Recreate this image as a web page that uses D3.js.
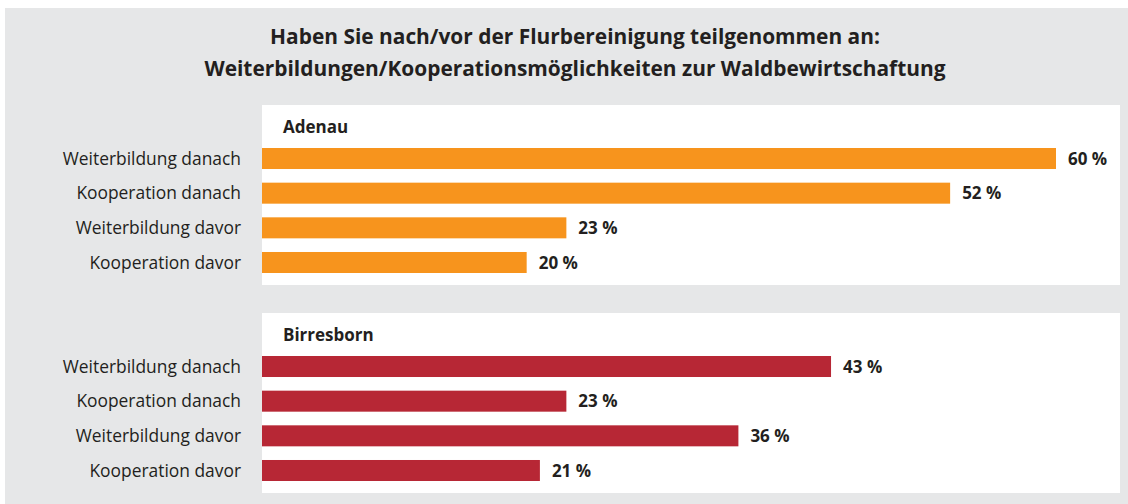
<!DOCTYPE html>
<html><head><meta charset="utf-8">
<script src="https://cdn.jsdelivr.net/npm/d3@7"></script>
<style>html,body{margin:0;padding:0;background:#fff;}svg{display:block;font-family:"Open Sans",sans-serif;}</style>
</head><body>
<svg id="c" width="1128" height="504"></svg>
<script>
const titleLines = ["Haben Sie nach/vor der Flurbereinigung teilgenommen an:", "Weiterbildungen/Kooperationsmöglichkeiten zur Waldbewirtschaftung"];
const categories = ["Weiterbildung danach", "Kooperation danach", "Weiterbildung davor", "Kooperation davor"];
const regions = ["Adenau", "Birresborn"];
const adenauValues = [60, 52, 23, 20];
const birresbornValues = [43, 23, 36, 21];
const regionColors = ["#F7941D", "#B72735"];

const svg = d3.select("#c");
const textColor = "#231F20";

svg.append("rect").attr("x", 5).attr("y", 8).attr("width", 1123).attr("height", 496).attr("fill", "#E6E7E8");

svg.selectAll("text.title").data(titleLines).join("text")
  .attr("class", "title")
  .attr("x", 575).attr("y", (d, i) => 44 + i * 32)
  .attr("text-anchor", "middle")
  .attr("font-size", 20.9).attr("font-weight", 700).attr("fill", textColor)
  .text(d => d);

const x = d3.scaleLinear().domain([0, 60]).range([262, 1056]);

const panels = [
  { name: regions[0], values: adenauValues, color: regionColors[0], top: 105, bottom: 285, barTop: 148, barBottom: 273 },
  { name: regions[1], values: birresbornValues, color: regionColors[1], top: 313, bottom: 493, barTop: 356, barBottom: 481 }
];

panels.forEach(p => {
  const g = svg.append("g");
  g.append("rect").attr("x", 262).attr("y", p.top).attr("width", 858).attr("height", p.bottom - p.top).attr("fill", "#fff");
  g.append("text").attr("x", 283).attr("y", p.top + 28)
    .attr("font-size", 17).attr("font-weight", 700).attr("fill", textColor).text(p.name);
  const y = d3.scaleBand().domain(categories).range([p.barTop, p.barBottom]).paddingInner(0.394).paddingOuter(0);
  const rows = categories.map((c, i) => ({ c, v: p.values[i] }));
  g.selectAll("rect.bar").data(rows).join("rect").attr("class", "bar")
    .attr("x", x(0)).attr("y", d => y(d.c)).attr("width", d => x(d.v) - x(0)).attr("height", y.bandwidth())
    .attr("fill", p.color);
  g.selectAll("text.val").data(rows).join("text").attr("class", "val")
    .attr("x", d => x(d.v) + 12).attr("y", d => y(d.c) + y.bandwidth() / 2).attr("dy", "0.36em")
    .attr("font-size", 17).attr("font-weight", 700).attr("fill", textColor)
    .text(d => d.v + " %");
  g.selectAll("text.cat").data(rows).join("text").attr("class", "cat")
    .attr("x", 241).attr("y", d => y(d.c) + y.bandwidth() / 2).attr("dy", "0.36em")
    .attr("text-anchor", "end")
    .attr("font-size", 17.4).attr("fill", textColor)
    .text(d => d.c);
});
</script>
</body></html>
